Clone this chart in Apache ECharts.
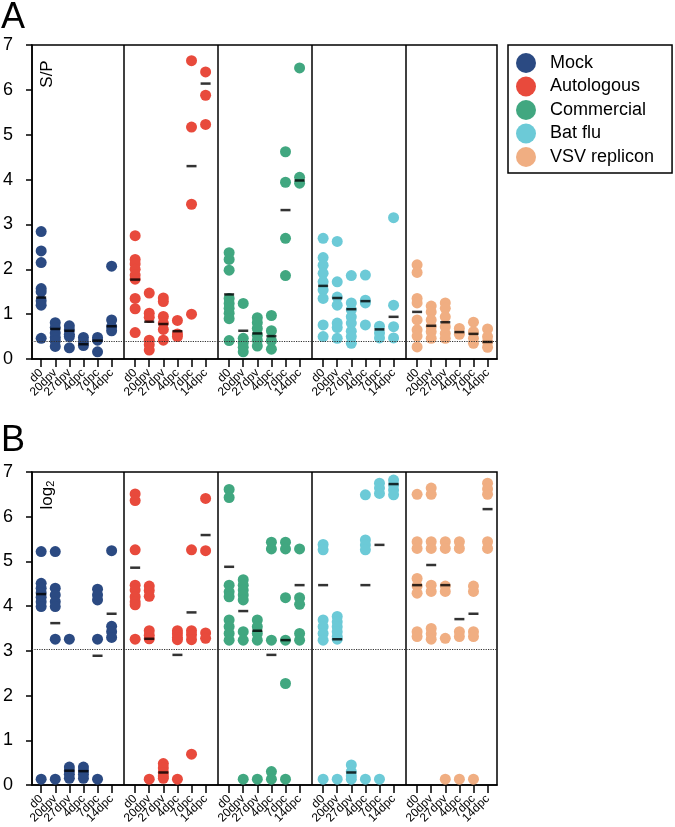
<!DOCTYPE html>
<html>
<head>
<meta charset="utf-8">
<script src="https://cdn.jsdelivr.net/npm/echarts@6/dist/echarts.min.js"></script>
<style>
html, body { margin: 0; padding: 0; background: #fff; }
#chart { width: 675px; height: 827px; }
</style>
</head>
<body>
<div id="chart"></div>
<script>
var timepoints = ['d0', '20dpv', '27dpv', '4dpc', '7dpc', '14dpc'];
var groups = ['Mock', 'Autologous', 'Commercial', 'Bat flu', 'VSV replicon'];
var colors = ['#2b4a82', '#e84a3c', '#41a780', '#6ccad7', '#f0ae82'];
var yTicks = [0, 1, 2, 3, 4, 5, 6, 7];

// panel A : S/P, one inner list per time point
var spMock = [[2.84, 2.41, 2.15, 1.57, 1.50, 1.30, 1.20, 0.46], [0.81, 0.70, 0.58, 0.48, 0.40, 0.28], [0.74, 0.65, 0.55, 0.50, 0.25], [0.48, 0.38, 0.30], [0.48, 0.42, 0.16], [2.07, 0.87, 0.72, 0.63]];
var spAutologous = [[2.75, 2.22, 2.12, 2.00, 1.87, 1.78, 1.35, 1.12, 0.59], [1.47, 1.02, 0.93, 0.42, 0.32, 0.20], [1.36, 1.28, 0.95, 0.80, 0.66, 0.42], [0.86, 0.56, 0.50], [6.65, 5.17, 3.45, 1.00], [6.40, 5.88, 5.23]];
var spCommercial = [[2.37, 2.22, 1.98, 1.35, 1.24, 1.13, 1.02, 0.90, 0.41], [1.24, 0.46, 0.36, 0.26, 0.16], [0.92, 0.81, 0.68, 0.53, 0.42, 0.29], [0.97, 0.63, 0.41, 0.22], [4.62, 3.94, 2.69, 1.86], [6.49, 4.05, 3.92]];
var spBatFlu = [[2.69, 2.26, 2.09, 1.91, 1.72, 1.54, 1.35, 0.76, 0.50], [2.62, 1.72, 1.38, 1.20, 0.80, 0.70, 0.46], [1.86, 1.25, 1.10, 0.94, 0.80, 0.62, 0.50, 0.35], [1.87, 1.31, 1.25, 0.76], [0.73, 0.58, 0.47], [3.15, 1.20, 0.72, 0.47]];
var spVSV = [[2.10, 1.93, 1.35, 1.25, 0.87, 0.65, 0.51, 0.27], [1.18, 1.05, 0.87, 0.72, 0.61, 0.46], [1.25, 1.13, 0.94, 0.72, 0.57, 0.46], [0.68, 0.55], [0.82, 0.61, 0.46, 0.35], [0.67, 0.50, 0.38, 0.26]];
var spMeans = [[1.37, 0.67, 0.63, 0.33, 0.41, 0.73], [1.77, 0.83, 0.78, 0.62, 4.30, 6.14], [1.44, 0.63, 0.57, 0.51, 3.32, 3.98], [1.63, 1.36, 1.11, 1.29, 0.66, 0.94], [1.05, 0.74, 0.82, 0.60, 0.56, 0.38]];
var spCutoff = 0.39;

// panel B : log2
var lgMock = [[5.22, 4.51, 4.40, 4.30, 4.20, 4.10, 3.99, 0.13], [5.22, 4.40, 4.25, 4.10, 3.99, 3.26, 0.13], [3.26, 0.40, 0.32, 0.24, 0.15], [0.40, 0.32, 0.24, 0.15], [4.38, 4.25, 4.14, 3.26, 0.13], [5.24, 3.55, 3.43, 3.30]];
var lgAutologous = [[6.51, 6.36, 5.26, 4.47, 4.36, 4.21, 4.10, 4.03, 3.26], [4.45, 4.35, 4.22, 3.45, 3.35, 3.27, 0.13], [0.48, 0.38, 0.28, 0.20, 0.15], [3.45, 3.38, 3.30, 3.25, 0.13], [5.26, 3.45, 3.36, 3.25, 0.69], [6.41, 5.24, 3.40, 3.28]];
var lgCommercial = [[6.61, 6.43, 4.47, 4.32, 4.21, 3.69, 3.54, 3.39, 3.24], [4.59, 4.47, 4.36, 4.25, 4.14, 3.43, 3.24, 0.13], [3.69, 3.54, 3.39, 3.24, 0.13], [5.43, 5.28, 3.24, 0.30, 0.13], [5.43, 5.28, 4.19, 3.24, 2.27, 0.13], [5.28, 4.19, 4.04, 3.39, 3.24]];
var lgBatFlu = [[5.38, 5.26, 3.69, 3.54, 3.39, 3.24, 0.13], [3.77, 3.65, 3.54, 3.43, 3.32, 3.26, 0.13], [0.45, 0.30, 0.20, 0.13], [6.49, 5.48, 5.37, 5.26, 0.13], [6.75, 6.64, 6.52, 0.13], [6.82, 6.71, 6.60, 6.49]];
var lgVSV = [[6.50, 5.44, 5.29, 4.62, 4.45, 4.29, 3.43, 3.32], [6.64, 6.50, 5.44, 5.29, 4.47, 4.33, 3.50, 3.38, 3.26], [5.44, 5.29, 4.45, 4.33, 3.28, 0.13], [5.44, 5.29, 3.43, 3.32, 0.13], [4.45, 4.33, 3.43, 3.32, 0.13], [6.75, 6.62, 6.50, 5.44, 5.29]];
var lgMeans = [[4.27, 3.62, 0.32, 0.31, 2.89, 3.83], [4.86, 3.27, 0.28, 2.91, 3.86, 5.59], [4.88, 3.89, 3.45, 2.91, 3.24, 4.47], [4.47, 3.26, 0.28, 4.47, 5.37, 6.73], [4.47, 4.92, 4.47, 3.71, 3.83, 6.17]];
var lgCutoff = 3.03;

(function(){

var chart = echarts.init(document.getElementById('chart'));
var font = 'Liberation Sans, Arial, sans-serif';

// x layout: each group block, time points 1 unit apart
var xStart = 0.65, groupStep = 6.67, xMax = 33;
var dividers = [6.53, 13.19, 19.85, 26.51];

var tickPos = [];
groups.forEach(function(g, gi){
    timepoints.forEach(function(t, ti){
        tickPos.push(+(xStart + gi * groupStep + ti).toFixed(3));
    });
});
// blank labels at both ends so the min/max label check drops those instead of real ones
var labelPos = [0].concat(tickPos, [xMax]);
function tickLabel(v){
    for (var i = 0; i < tickPos.length; i++) {
        if (Math.abs(tickPos[i] - v) < 0.01) return timepoints[i % 6];
    }
    return ' ';
}

function makeX(idx){
    return {
        type: 'value', gridIndex: idx, min: 0, max: xMax,
        axisLine: {show: true, lineStyle: {color: '#000', width: 1.5}},
        axisTick: {show: true, customValues: tickPos, length: 8, lineStyle: {color: '#000', width: 1.5}},
        axisLabel: {
            customValues: labelPos, formatter: tickLabel, rotate: 45,
            showMinLabel: false, showMaxLabel: false, hideOverlap: false,
            fontSize: 12, color: '#000', fontFamily: font, margin: 12
        },
        splitLine: {show: false}
    };
}
function makeY(idx){
    return {
        type: 'value', gridIndex: idx, min: 0, max: 7, interval: 1,
        axisLine: {show: true, lineStyle: {color: '#000', width: 1.5}},
        axisTick: {show: true, length: 6, lineStyle: {color: '#000', width: 1.5}},
        axisLabel: {
            fontSize: 18, color: '#000', fontFamily: font, margin: 19,
            formatter: function(v){ return yTicks.indexOf(v) >= 0 ? String(v) : ''; }
        },
        splitLine: {show: false}
    };
}

function panelSeries(idx, groupData, means, cutoff){
    var out = [];
    groupData.forEach(function(byTime, gi){
        var pts = [];
        byTime.forEach(function(vals, ti){
            vals.forEach(function(v){ pts.push([tickPos[gi * 6 + ti], v]); });
        });
        out.push({
            name: groups[gi], type: 'scatter',
            xAxisIndex: idx, yAxisIndex: idx,
            symbolSize: 11,
            itemStyle: {color: colors[gi], opacity: 1},
            emphasis: {disabled: true},
            data: pts
        });
    });
    var meanPts = [];
    means.forEach(function(row, gi){
        row.forEach(function(m, ti){ meanPts.push([tickPos[gi * 6 + ti], m]); });
    });
    var lines = dividers.map(function(d){
        return {xAxis: d, lineStyle: {type: 'solid', color: '#000', width: 1.5}};
    });
    lines.push({yAxis: cutoff, lineStyle: {type: 'dotted', color: '#333', width: 1.2}});
    out.push({
        name: 'mean', type: 'scatter',
        xAxisIndex: idx, yAxisIndex: idx,
        symbol: 'rect', symbolSize: [10, 2.5],
        itemStyle: {color: '#000'},
        z: 5,
        emphasis: {disabled: true},
        data: meanPts,
        markLine: {
            silent: true, symbol: ['none', 'none'],
            label: {show: false},
            data: lines
        }
    });
    return out;
}

var series = panelSeries(0, [spMock, spAutologous, spCommercial, spBatFlu, spVSV], spMeans, spCutoff)
    .concat(panelSeries(1, [lgMock, lgAutologous, lgCommercial, lgBatFlu, lgVSV], lgMeans, lgCutoff));

option = {
    animation: false,
    backgroundColor: '#fff',
    grid: [
        {left: 26, top: 45, width: 471, height: 314, show: true, borderColor: '#000', borderWidth: 1.5},
        {left: 26, top: 472, width: 471, height: 313, show: true, borderColor: '#000', borderWidth: 1.5}
    ],
    xAxis: [makeX(0), makeX(1)],
    yAxis: [makeY(0), makeY(1)],
    legend: {
        data: groups,
        orient: 'vertical',
        left: 508, top: 45,
        icon: 'circle',
        itemWidth: 20, itemHeight: 20,
        itemGap: 3.5,
        padding: [8, 18, 6, 8],
        borderColor: '#000', borderWidth: 1.5,
        textStyle: {fontSize: 18, color: '#000', fontFamily: font, padding: [0, 0, 0, 9]}
    },
    graphic: [
        {type: 'text', left: 1, top: 0, style: {text: 'A', fontSize: 36, fill: '#000', fontFamily: font}},
        {type: 'text', left: 1, top: 423, style: {text: 'B', fontSize: 36, fill: '#000', fontFamily: font}},
        {type: 'text', x: 47, y: 74, rotation: Math.PI / 2,
            style: {text: 'S/P', fontSize: 17, fill: '#000', fontFamily: font, align: 'center', verticalAlign: 'middle'}},
        {type: 'text', x: 47, y: 495, rotation: Math.PI / 2,
            style: {
                text: '{a|log}{b|2}', align: 'center', verticalAlign: 'middle',
                rich: {
                    a: {fontSize: 17, fill: '#000', fontFamily: font, verticalAlign: 'middle'},
                    b: {fontSize: 11, fill: '#000', fontFamily: font, verticalAlign: 'bottom', padding: [8, 0, 0, 0]}
                }
            }}
    ],
    series: series
};

chart.setOption(option);
})();
</script>
</body>
</html>
